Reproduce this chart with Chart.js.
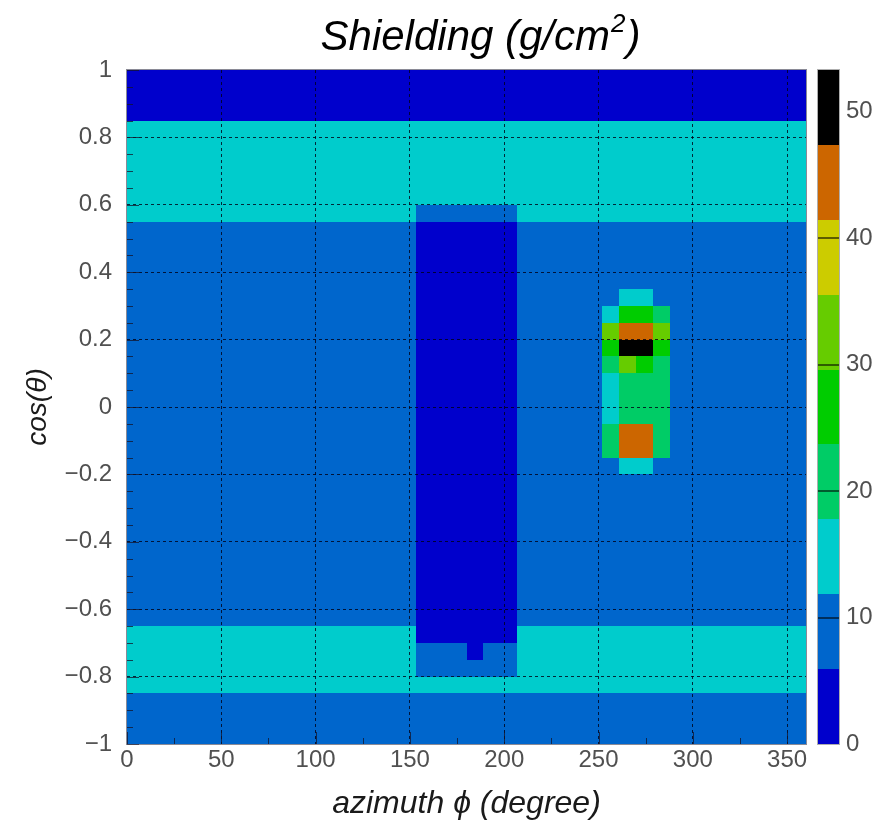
<!DOCTYPE html>
<html>
<head>
<meta charset="utf-8">
<title>Shielding</title>
<script src="https://cdn.jsdelivr.net/npm/chart.js@4.4.1/dist/chart.umd.min.js"></script>
<style>
  html, body { margin: 0; padding: 0; background: #ffffff; }
  canvas { display: block; }
</style>
</head>
<body>
<canvas id="myChartShielding" width="896" height="827"></canvas>
<script>
//? Bords des bins : azimuth phi (degrés) et cos(theta).

const phiEdges = [
  0, 9, 18, 27, 36, 45, 54, 63, 72, 81, 90, 99, 108, 117, 126, 135, 144, 153,
  162, 171, 180, 189, 198, 207, 216, 225, 234, 243, 252, 261, 270, 279, 288,
  297, 306, 315, 324, 333, 342, 351, 360,
];

const cosEdges = [
  -1, -0.95, -0.9, -0.85, -0.8, -0.75, -0.7, -0.65, -0.6, -0.55, -0.5, -0.45,
  -0.4, -0.35, -0.3, -0.25, -0.2, -0.15, -0.1, -0.05, 0, 0.05, 0.1, 0.15, 0.2,
  0.25, 0.3, 0.35, 0.4, 0.45, 0.5, 0.55, 0.6, 0.65, 0.7, 0.75, 0.8, 0.85, 0.9,
  0.95, 1,
];

//? Valeur de shielding (g/cm2) associée à chaque code de la grille.

const shieldingParCode = [3, 9, 14.5, 20.5, 26.5, 32.5, 38.5, 44.5, 53.3];

//? Grille : une ligne par bin cos(theta), du haut (cos = 1) vers le bas (cos = -1),
//? un caractère par bin phi (0 -> 360).

const grilleShielding = [
  "0000000000000000000000000000000000000000",
  "0000000000000000000000000000000000000000",
  "0000000000000000000000000000000000000000",
  "2222222222222222222222222222222222222222",
  "2222222222222222222222222222222222222222",
  "2222222222222222222222222222222222222222",
  "2222222222222222222222222222222222222222",
  "2222222222222222222222222222222222222222",
  "2222222222222222211111122222222222222222",
  "1111111111111111100000011111111111111111",
  "1111111111111111100000011111111111111111",
  "1111111111111111100000011111111111111111",
  "1111111111111111100000011111111111111111",
  "1111111111111111100000011111122111111111",
  "1111111111111111100000011111244311111111",
  "1111111111111111100000011111577511111111",
  "1111111111111111100000011111488411111111",
  "1111111111111111100000011111354311111111",
  "1111111111111111100000011111233311111111",
  "1111111111111111100000011111233311111111",
  "1111111111111111100000011111233311111111",
  "1111111111111111100000011111377311111111",
  "1111111111111111100000011111377311111111",
  "1111111111111111100000011111122111111111",
  "1111111111111111100000011111111111111111",
  "1111111111111111100000011111111111111111",
  "1111111111111111100000011111111111111111",
  "1111111111111111100000011111111111111111",
  "1111111111111111100000011111111111111111",
  "1111111111111111100000011111111111111111",
  "1111111111111111100000011111111111111111",
  "1111111111111111100000011111111111111111",
  "1111111111111111100000011111111111111111",
  "2222222222222222200000022222222222222222",
  "2222222222222222211101122222222222222222",
  "2222222222222222211111122222222222222222",
  "2222222222222222222222222222222222222222",
  "1111111111111111111111111111111111111111",
  "1111111111111111111111111111111111111111",
  "1111111111111111111111111111111111111111",
];

//? Graduations.

const graduationsPhi = [0, 25, 50, 75, 100, 125, 150, 175, 200, 225, 250, 275, 300, 325, 350];
const graduationsZ = [0, 10, 20, 30, 40, 50];

//? Palette (9 niveaux de contour).

const paletteCouleurs = [
  "#0000cc", "#0066cc", "#00cccc", "#00cc66", "#00cc00",
  "#66cc00", "#cccc00", "#cc6600", "#000000",
];

const zMax = Math.max(...shieldingParCode);
const nbNiveaux = paletteCouleurs.length;

grilleShielding.forEach((ligne, i) => {
  if (ligne.length !== phiEdges.length - 1) {
    console.error("🔴 ERROR | Ligne de grille incorrecte :", i, ligne.length);
  }
});

const couleurPourValeur = (v) => {
  const niveau = Math.min(nbNiveaux - 1, Math.floor(v / (zMax / nbNiveaux)));
  return paletteCouleurs[niveau];
};

const police = "'Liberation Sans', Arial, Helvetica, sans-serif";
const couleurTexte = "#505050";

//? -------------------------------------------------

//? Plugin : cellules de l'histogramme, cadre, graduations, palette et titre.

const pluginShielding = {
  id: "pluginShielding",

  beforeDatasetsDraw(chart) {
    const { ctx, scales } = chart;
    const x = scales.x;
    const y = scales.y;
    ctx.save();
    grilleShielding.forEach((ligne, r) => {
      const iBas = cosEdges.length - 2 - r;
      const yHaut = Math.round(y.getPixelForValue(cosEdges[iBas + 1]));
      const yBas = Math.round(y.getPixelForValue(cosEdges[iBas]));
      for (let c = 0; c < ligne.length; c++) {
        const v = shieldingParCode[Number(ligne[c])];
        const x0 = Math.round(x.getPixelForValue(phiEdges[c]));
        const x1 = Math.round(x.getPixelForValue(phiEdges[c + 1]));
        ctx.fillStyle = couleurPourValeur(v);
        ctx.fillRect(x0, yHaut, x1 - x0, yBas - yHaut);
      }
    });
    ctx.restore();
  },

  afterDraw(chart) {
    const { ctx, chartArea, scales } = chart;
    const x = scales.x;
    const y = scales.y;
    const z = scales.z;

    ctx.save();

    //? Graduations internes.
    ctx.strokeStyle = "rgba(20, 20, 40, 0.75)";
    ctx.lineWidth = 1;
    ctx.setLineDash([]);
    ctx.beginPath();
    graduationsPhi.forEach((v) => {
      const px = Math.round(x.getPixelForValue(v)) + 0.5;
      const long = v % 50 === 0 ? 12 : 6;
      ctx.moveTo(px, chartArea.bottom);
      ctx.lineTo(px, chartArea.bottom - long);
    });
    cosEdges.forEach((v) => {
      const py = Math.round(y.getPixelForValue(v)) + 0.5;
      const q = v / 0.2;
      const long = Math.abs(q - Math.round(q)) < 1e-6 ? 12 : 6;
      ctx.moveTo(chartArea.left, py);
      ctx.lineTo(chartArea.left + long, py);
    });
    ctx.stroke();

    //? Cadre.
    ctx.strokeStyle = "rgba(60, 60, 80, 0.6)";
    ctx.strokeRect(
      Math.round(chartArea.left) - 0.5,
      Math.round(chartArea.top) - 0.5,
      Math.round(chartArea.right - chartArea.left) + 1,
      Math.round(chartArea.bottom - chartArea.top) + 1
    );

    //? Palette de couleurs.
    const xBarre0 = Math.round(chartArea.right) + 12;
    const xBarre1 = Math.round(chartArea.right) + 33;
    for (let k = 0; k < nbNiveaux; k++) {
      const yb = Math.round(z.getPixelForValue((k * zMax) / nbNiveaux));
      const yh = Math.round(z.getPixelForValue(((k + 1) * zMax) / nbNiveaux));
      ctx.fillStyle = paletteCouleurs[k];
      ctx.fillRect(xBarre0, yh, xBarre1 - xBarre0, yb - yh);
    }
    ctx.strokeStyle = "rgba(0, 0, 0, 0.55)";
    ctx.lineWidth = 2;
    ctx.beginPath();
    graduationsZ.forEach((v) => {
      if (v <= 0 || v >= zMax) return;
      const py = Math.round(z.getPixelForValue(v));
      ctx.moveTo(xBarre0, py);
      ctx.lineTo(xBarre1, py);
    });
    ctx.stroke();
    ctx.lineWidth = 1;
    ctx.strokeStyle = "rgba(120, 120, 120, 0.6)";
    ctx.strokeRect(
      xBarre0 - 0.5,
      Math.round(z.getPixelForValue(zMax)) - 0.5,
      xBarre1 - xBarre0 + 1,
      Math.round(z.getPixelForValue(0) - z.getPixelForValue(zMax)) + 1
    );

    //? Titre avec exposant.
    const partie1 = "Shielding (g/cm";
    const exposant = "2";
    const partie2 = ")";
    const fontTitre = `italic 42px ${police}`;
    const fontExposant = `italic 26px ${police}`;
    ctx.font = fontTitre;
    const w1 = ctx.measureText(partie1).width;
    const w3 = ctx.measureText(partie2).width;
    ctx.font = fontExposant;
    const w2 = ctx.measureText(exposant).width;
    const largeur = w1 + w2 + w3 + 2;
    const xCentre = (chartArea.left + chartArea.right) / 2 + 14;
    let xt = xCentre - largeur / 2;
    const yBase = 50;
    ctx.fillStyle = "#000000";
    ctx.textAlign = "left";
    ctx.textBaseline = "alphabetic";
    ctx.font = fontTitre;
    ctx.fillText(partie1, xt, yBase);
    xt += w1 + 1;
    ctx.font = fontExposant;
    ctx.fillText(exposant, xt, yBase - 18);
    xt += w2 + 1;
    ctx.font = fontTitre;
    ctx.fillText(partie2, xt, yBase);

    ctx.restore();
  },
};

//? -------------------------------------------------

//? Construction du graphique shielding.

const constructionDuGraphiqueShielding = () => {
  try {
    const ctxShielding = document.getElementById("myChartShielding").getContext("2d");

    const couleurGrille = (context) => {
      const t = context.tick;
      if (!t) return "transparent";
      const s = context.scale;
      if (s && (t.value <= s.min || t.value >= s.max)) return "transparent";
      return "rgba(0, 0, 20, 0.8)";
    };

    const optionsShielding = {
      responsive: false,
      animation: false,
      layout: { padding: { top: 70, left: 0, right: 0, bottom: 0 } },
      plugins: {
        legend: { display: false },
        tooltip: { enabled: false },
        title: { display: false },
      },
      scales: {
        x: {
          type: "linear",
          position: "bottom",
          min: 0,
          max: 360,
          afterFit: (scale) => {
            scale.height = 83;
          },
          ticks: {
            stepSize: 50,
            includeBounds: false,
            padding: 2,
            color: couleurTexte,
            font: { family: police, size: 24 },
            maxRotation: 0,
          },
          grid: { z: 1, color: couleurGrille, lineWidth: 1, drawTicks: false },
          border: { display: false, dash: [3, 3] },
          title: {
            display: true,
            text: "azimuth ϕ (degree)",
            color: "#1a1a1a",
            font: { family: police, size: 32, style: "italic" },
            padding: { top: 0, bottom: 4 },
          },
        },
        y: {
          type: "linear",
          position: "left",
          min: -1,
          max: 1,
          afterFit: (scale) => {
            scale.width = 127;
          },
          ticks: {
            stepSize: 0.2,
            padding: 15,
            color: couleurTexte,
            font: { family: police, size: 24 },
            callback: (v) => String(Math.round(v * 10) / 10).replace("-", "\u2212"),
          },
          grid: { z: 1, color: couleurGrille, lineWidth: 1, drawTicks: false },
          border: { display: false, dash: [3, 3] },
          title: {
            display: true,
            text: "cos(θ)",
            color: "#1a1a1a",
            font: { family: police, size: 28, style: "italic" },
            padding: { top: 21, bottom: 0 },
          },
        },
        z: {
          type: "linear",
          axis: "y",
          position: "right",
          min: 0,
          max: zMax,
          afterFit: (scale) => {
            scale.width = 90;
          },
          afterBuildTicks: (scale) => {
            scale.ticks = graduationsZ.map((v) => ({ value: v }));
          },
          ticks: {
            padding: 40,
            color: couleurTexte,
            font: { family: police, size: 24 },
          },
          grid: { display: false, drawTicks: false },
          border: { display: false },
        },
      },
    };

    const configShielding = {
      type: "scatter",
      data: { datasets: [] },
      options: optionsShielding,
      plugins: [pluginShielding],
    };

    new Chart(ctxShielding, configShielding);
  } catch (error) {
    console.error("🔴 ERREUR | Construction graphique shielding :", error);
  }
};

constructionDuGraphiqueShielding();
</script>
</body>
</html>
